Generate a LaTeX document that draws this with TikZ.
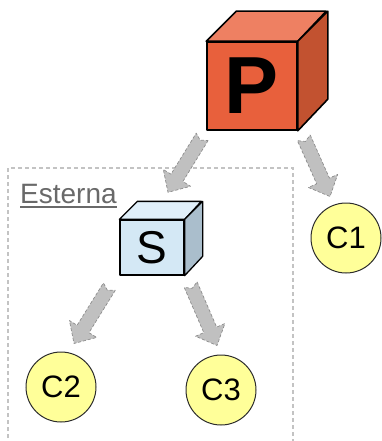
\documentclass[tikz,border=0pt]{standalone}
\usepackage{fontspec}
\setmainfont{Liberation Sans}
\usetikzlibrary{calc}

\definecolor{pfront}{RGB}{232,96,60}
\definecolor{ptop}{RGB}{238,128,98}
\definecolor{pside}{RGB}{194,82,48}
\definecolor{sfront}{RGB}{212,232,245}
\definecolor{stop}{RGB}{224,239,249}
\definecolor{sside}{RGB}{170,190,204}
\definecolor{ballfill}{RGB}{255,255,153}
\definecolor{arrfill}{RGB}{192,192,192}
\definecolor{arrline}{RGB}{140,140,140}
\definecolor{frameline}{RGB}{195,195,195}
\definecolor{labgray}{RGB}{105,105,105}

\tikzset{
  face/.style={draw=black, line width=1.6, line join=round},
  pbox/.style={face, fill=pfront, minimum width=90pt, minimum height=88pt, inner sep=0pt,
    font=\fontsize{81}{81}\selectfont\bfseries},
  sbox/.style={face, line width=1.3, fill=sfront, minimum width=64pt, minimum height=55pt, inner sep=0pt,
    font=\fontsize{46}{46}\selectfont},
  ball/.style={circle, draw={rgb,255:red,45;green,45;blue,45}, line width=1, fill=ballfill,
    minimum size=70pt, inner sep=0pt, font=\fontsize{31}{31}\selectfont},
  fat/.style={fill=arrfill, draw=arrline, line width=0.7, densely dashed, line join=round,
    to path={let \p1=(\tikztostart), \p2=(\tikztotarget),
      \n1={atan2(\y2-\y1,\x2-\x1)}, \n2={veclen(\x2-\x1,\y2-\y1)} in
      ($(\p1)+(\n1+90:7)$) -- ($(\p1)+(\n1:\n2-17)+(\n1+90:7)$)
      -- ($(\p1)+(\n1:\n2-17)+(\n1+90:16)$) -- (\p2)
      -- ($(\p1)+(\n1:\n2-17)+(\n1-90:16)$) -- ($(\p1)+(\n1:\n2-17)+(\n1-90:7)$)
      -- ($(\p1)+(\n1-90:7)$) -- ($(\p1)+(\n1:4)$) -- cycle}},
}

\begin{document}
\begin{tikzpicture}[x=1pt,y=1pt]
\useasboundingbox (0,0) rectangle (382,-441);

%Shape: dashed frame, open at the bottom
\draw [frameline, line width=1.3, dash pattern=on 4pt off 3pt] (8,-445) -- (8,-168) -- (293,-168) -- (293,-445);

% Text Node
\node [anchor=base west, inner sep=0pt, text=labgray, font=\fontsize{28}{28}\selectfont] (esterna) at (20,-203) {Esterna};
\draw [labgray, line width=1.2] ([yshift=-4pt]esterna.base west) -- ([yshift=-4pt]esterna.base east);

%Shape: cube P
\node [pbox] (P) at (252,-86) {P};
\draw [face, fill=ptop] (P.north west) -- ++(30,30) -- ++(90,0) -- (P.north east) -- cycle;
\draw [face, fill=pside] (P.north east) -- ++(30,30) -- ++(0,-88) -- (P.south east) -- cycle;

%Shape: cube S
\node [sbox] (S) at (152,-247.5) {S};
\draw [face, line width=1.3, fill=stop] (S.north west) -- ++(18,18) -- ++(64,0) -- (S.north east) -- cycle;
\draw [face, line width=1.3, fill=sside] (S.north east) -- ++(18,18) -- ++(0,-55) -- (S.south east) -- cycle;

%Shape: circles
\node [ball] (C1) at (346,-238) {C1};
\node [ball] (C2) at (61,-387) {C2};
\node [ball] (C3) at (221,-390) {C3};

%Block arrows
\draw [fat] ($(P.south west)+(-4,-6)$) to ($(S.north)+(16,27)$);
\draw [fat] ($(P.south east)+(6,-7)$) to ($(C1.north)+(-16,6)$);
\draw [fat] ($(S.south west)+(-10,-11)$) to ($(C2.north)+(13,8)$);
\draw [fat] ($(S.south east)+(6,-9)$) to ($(C3.north)+(-4,9)$);

\end{tikzpicture}
\end{document}
